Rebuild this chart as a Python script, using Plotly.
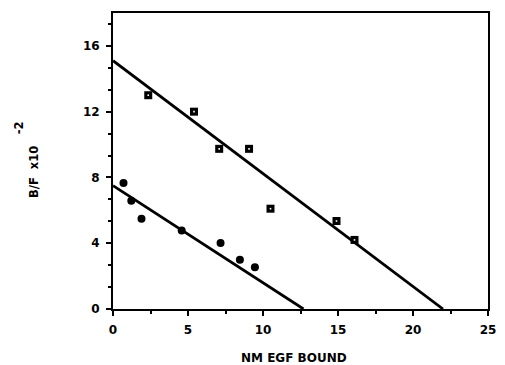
import plotly.graph_objects as go

# Data
sq_x = [2.35, 5.4, 7.08, 9.07, 10.5, 14.9, 16.1]
sq_y = [13.0, 12.0, 9.74, 9.74, 6.1, 5.35, 4.2]

dm_x = [0.7, 1.22, 1.9, 4.58, 7.17, 8.46, 9.46]
dm_y = [7.66, 6.58, 5.49, 4.77, 4.02, 3.0, 2.54]

fit1_x = [0.0, 22.0]
fit1_y = [15.1, 0.0]
fit2_x = [0.0, 12.7]
fit2_y = [7.5, 0.0]

x_ticks = [0, 5, 10, 15, 20, 25]
y_ticks = [0, 4, 8, 12, 16]

FONT = "DejaVu Sans"

fig = go.Figure()
fig.add_trace(go.Scatter(x=fit1_x, y=fit1_y, mode="lines",
                         line=dict(color="black", width=2.8), showlegend=False, hoverinfo="skip"))
fig.add_trace(go.Scatter(x=fit2_x, y=fit2_y, mode="lines",
                         line=dict(color="black", width=2.8), showlegend=False, hoverinfo="skip"))
fig.add_trace(go.Scatter(x=sq_x, y=sq_y, mode="markers",
                         marker=dict(symbol="square", size=8, color="black"), showlegend=False))
fig.add_trace(go.Scatter(x=sq_x, y=sq_y, mode="markers",
                         marker=dict(symbol="square", size=1.6, color="white"), showlegend=False,
                         hoverinfo="skip"))
fig.add_trace(go.Scatter(x=dm_x, y=dm_y, mode="markers",
                         marker=dict(symbol="circle", size=8, color="black"), showlegend=False))

axis_common = dict(showline=True, linecolor="black", linewidth=2, mirror=True,
                   ticks="outside", ticklen=5, tickwidth=1.5, tickcolor="black",
                   showgrid=False, zeroline=False,
                   tickfont=dict(family=FONT, size=12, color="black", weight="bold"))

fig.update_xaxes(range=[0, 25], tickvals=x_ticks,
                 ticktext=[f"<b>{v}</b>" for v in x_ticks], ticklabelstandoff=4,
                 minor=dict(dtick=2.5, ticklen=3, tickwidth=1.5, tickcolor="black", ticks="outside"),
                 **axis_common)
fig.update_yaxes(range=[0, 18], tickvals=y_ticks,
                 ticktext=[f"<b>{v}</b>" for v in y_ticks], ticklabelstandoff=4,
                 minor=dict(tick0=0, dtick=4/3, ticklen=3, tickwidth=1.5, tickcolor="black", ticks="outside"),
                 **axis_common)

fig.add_annotation(text="<b>NM EGF BOUND</b>", xref="paper", yref="paper", x=0.4817, y=-0.1655,
                   xanchor="center", yanchor="middle", showarrow=False,
                   font=dict(family=FONT, size=12, color="black"))
fig.add_annotation(text="<b>B/F  x10</b>", xref="paper", yref="paper", x=-0.2123, y=0.4639,
                   xanchor="center", yanchor="middle", showarrow=False, textangle=-90,
                   font=dict(family=FONT, size=11.5, color="black"))
fig.add_annotation(text="<b>-2</b>", xref="paper", yref="paper", x=-0.2514, y=0.613,
                   xanchor="center", yanchor="middle", showarrow=False, textangle=-90,
                   font=dict(family=FONT, size=11.5, color="black"))

fig.update_layout(width=505, height=365, margin=dict(l=113, r=9, t=13, b=56),
                  plot_bgcolor="white", paper_bgcolor="white")

fig.write_html("out.html")
